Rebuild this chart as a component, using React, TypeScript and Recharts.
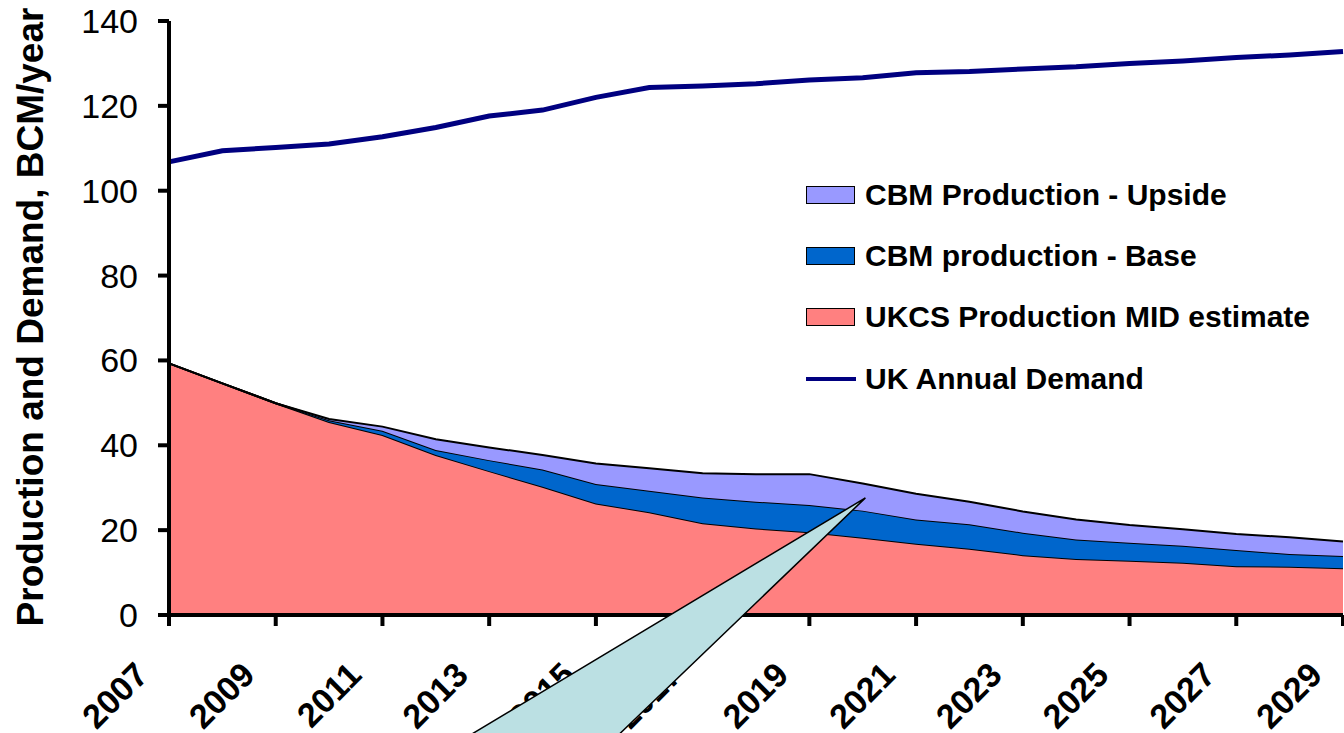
import React from 'react';
import { ComposedChart, Area, Line, XAxis, YAxis, Legend, ReferenceDot } from 'recharts';

const YEARS = [2007, 2008, 2009, 2010, 2011, 2012, 2013, 2014, 2015, 2016, 2017, 2018, 2019, 2020, 2021, 2022, 2023, 2024, 2025, 2026, 2027, 2028, 2029];
const UKCS_MID = [59.3, 54.6, 49.9, 45.5, 42.4, 37.7, 33.9, 30.2, 26.3, 24.2, 21.6, 20.4, 19.5, 18.2, 16.8, 15.6, 14.1, 13.2, 12.8, 12.3, 11.5, 11.4, 11.0];
const CBM_BASE = [0, 0, 0, 0.4, 1.0, 1.2, 2.6, 4.1, 4.6, 5.1, 6.1, 6.3, 6.4, 6.4, 5.7, 5.8, 5.3, 4.6, 4.2, 4.0, 3.8, 3.0, 2.9];
const CBM_UPSIDE = [0, 0, 0, 0.3, 1.0, 2.5, 3.0, 3.4, 4.8, 5.3, 5.7, 6.5, 7.3, 6.4, 6.1, 5.3, 5.0, 4.7, 4.2, 3.9, 3.8, 3.9, 3.4];
const UK_DEMAND = [106.8, 109.4, 110.2, 111.0, 112.7, 114.9, 117.6, 119.0, 122.0, 124.3, 124.7, 125.2, 126.1, 126.6, 127.8, 128.1, 128.7, 129.2, 130.0, 130.6, 131.4, 132.0, 132.8];
const X_TICKS = [2007, 2009, 2011, 2013, 2015, 2017, 2019, 2021, 2023, 2025, 2027, 2029];
const Y_TICKS = [0, 20, 40, 60, 80, 100, 120, 140];
const CALLOUT_TIP = { year: 2020.05, value: 27.6 };

const NAMES = {
  ukcs: 'UKCS Production MID estimate',
  base: 'CBM production - Base',
  upside: 'CBM Production - Upside',
  demand: 'UK Annual Demand',
};
const COLORS = { ukcs: '#FF8080', base: '#0066CC', upside: '#9999FF', demand: '#000080' };
const LEGEND_ORDER = ['upside', 'base', 'ukcs', 'demand'];

const FONT = '"Liberation Sans", Arial, sans-serif';

const data = YEARS.map((year, i) => ({
  year,
  ukcs: UKCS_MID[i],
  base: CBM_BASE[i],
  upside: CBM_UPSIDE[i],
  demand: UK_DEMAND[i],
}));

const XTick = (props: any) => {
  const { x, y, payload } = props;
  return (
    <g transform={`translate(${x - 19},${y + 49})`}>
      <text textAnchor="end" transform="rotate(-45)" fontFamily={FONT} fontSize={34} fontWeight="bold" fill="#000">
        {payload.value}
      </text>
    </g>
  );
};

const YTitle = () => (
  <text
    x={0}
    y={0}
    transform="translate(43,317) rotate(-90)"
    textAnchor="middle"
    fontFamily={FONT}
    fontSize={37}
    fontWeight="bold"
    fill="#000"
  >
    Production and Demand, BCM/year
  </text>
);

const LegendContent = (props: any) => {
  const payload = (props.payload || []).slice();
  payload.sort((a: any, b: any) => LEGEND_ORDER.indexOf(a.dataKey) - LEGEND_ORDER.indexOf(b.dataKey));
  return (
    <div>
      {payload.map((entry: any) => {
        const key = entry.dataKey as keyof typeof COLORS;
        return (
          <div key={key} style={{ display: 'flex', alignItems: 'center', height: 61.3 }}>
            {key === 'demand' ? (
              <div style={{ width: 50, height: 4, background: COLORS[key], margin: '0 9px 0 1px' }} />
            ) : (
              <div
                style={{
                  width: 49,
                  height: 18,
                  boxSizing: 'border-box',
                  border: '1.5px solid #000',
                  background: COLORS[key],
                  margin: '0 10px 0 1px',
                }}
              />
            )}
            <span style={{ fontFamily: FONT, fontSize: 30, fontWeight: 'bold', color: '#000', lineHeight: 1, whiteSpace: 'nowrap' }}>
              {NAMES[key]}
            </span>
          </div>
        );
      })}
    </div>
  );
};

const CalloutShape = (props: any) => {
  const { cx, cy } = props;
  if (cx == null || cy == null) return null;
  const pts = [
    [cx, cy],
    [cx - 250, cy + 240],
    [cx - 400, cy + 240],
  ]
    .map((p) => p.join(','))
    .join(' ');
  return <polygon points={pts} fill="#BBE0E3" stroke="#000" strokeWidth={1.5} strokeLinejoin="miter" />;
};

export default function App() {
  return (
    <div style={{ position: 'absolute', left: 0, top: 0, width: 1344, height: 733, overflow: 'hidden', background: '#fff' }}>
      <ComposedChart width={1344} height={733} data={data} margin={{ top: 21, right: 1, left: 0, bottom: 0 }}>
        <Area
          type="linear"
          dataKey="ukcs"
          name={NAMES.ukcs}
          stackId="prod"
          fill={COLORS.ukcs}
          fillOpacity={1}
          stroke="#000"
          strokeWidth={2}
          isAnimationActive={false}
        />
        <Area
          type="linear"
          dataKey="base"
          name={NAMES.base}
          stackId="prod"
          fill={COLORS.base}
          fillOpacity={1}
          stroke="#000"
          strokeWidth={2}
          isAnimationActive={false}
        />
        <Area
          type="linear"
          dataKey="upside"
          name={NAMES.upside}
          stackId="prod"
          fill={COLORS.upside}
          fillOpacity={1}
          stroke="#000"
          strokeWidth={2}
          isAnimationActive={false}
        />
        <Line
          type="linear"
          dataKey="demand"
          name={NAMES.demand}
          stroke={COLORS.demand}
          strokeWidth={5}
          dot={false}
          activeDot={false}
          isAnimationActive={false}
        />
        <XAxis
          dataKey="year"
          type="number"
          domain={[2007, 2029]}
          ticks={X_TICKS}
          interval={0}
          height={118}
          tickSize={11}
          tickMargin={2}
          tick={<XTick />}
          axisLine={{ stroke: '#000', strokeWidth: 4 }}
          tickLine={{ stroke: '#000', strokeWidth: 4 }}
        />
        <YAxis
          type="number"
          domain={[0, 140]}
          ticks={Y_TICKS}
          interval={0}
          width={169}
          tickSize={11}
          tickMargin={20}
          tick={{ fontFamily: FONT, fontSize: 34, fill: '#000' }}
          axisLine={{ stroke: '#000', strokeWidth: 4 }}
          tickLine={{ stroke: '#000', strokeWidth: 4 }}
          label={<YTitle />}
        />
        <Legend
          layout="vertical"
          align="center"
          verticalAlign="middle"
          content={<LegendContent />}
          wrapperStyle={{ position: 'absolute', left: 805, top: 164, width: 530, height: 250 }}
        />
        <ReferenceDot
          x={CALLOUT_TIP.year}
          y={CALLOUT_TIP.value}
          ifOverflow="visible"
          shape={<CalloutShape />}
          zIndex={3000}
          isAnimationActive={false}
        />
      </ComposedChart>
    </div>
  );
}
